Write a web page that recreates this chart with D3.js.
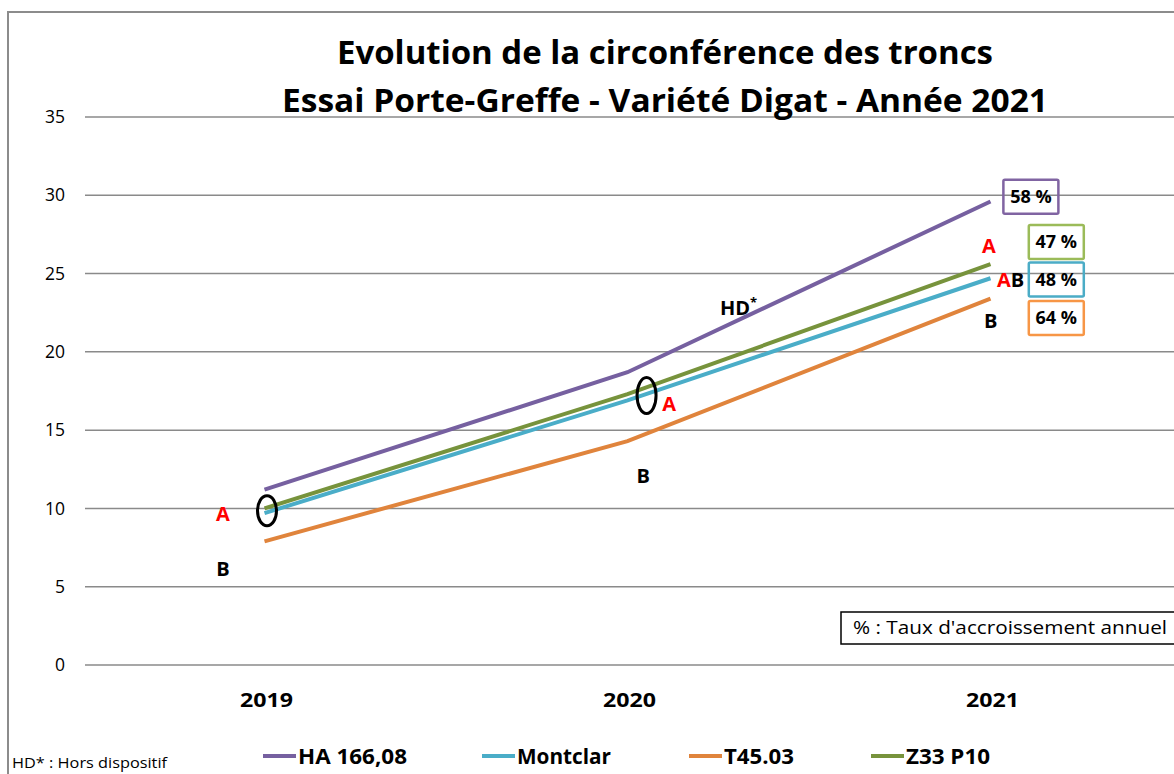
<!DOCTYPE html>
<html><head><meta charset="utf-8">
<script src="https://cdn.jsdelivr.net/npm/d3@7"></script>
<style>
body{margin:0;background:#fff;}
svg{display:block;font-family:"Open Sans",Lato,sans-serif;}
</style></head>
<body><svg id="c" width="1174" height="774"></svg>
<script>
const years = ["2019","2020","2021"];
const yTicks = [0,5,10,15,20,25,30,35];
const seriesNames = ["HA 166,08","Montclar","T45.03","Z33 P10"];
const seriesColors = ["#7660a0","#4aadc8","#e0843c","#77933c"];
const boxColors = ["#8064a2","#4bacc6","#f79646","#9bbb59"];
const haValues = [11.2, 18.7, 29.6];
const montclarValues = [9.7, 16.9, 24.7];
const t45Values = [7.9, 14.3, 23.4];
const z33Values = [10.0, 17.3, 25.6];
const growthRates = ["58 %","48 %","64 %","47 %"];
// statistical group letters: [category index, value, text, color]
const groupLetters = [
  [-0.12, 9.64, "A", "#ff0000"],
  [-0.12, 6.13, "B", "#000"],
  [1.109, 16.67, "A", "#ff0000"],
  [1.038, 12.07, "B", "#000"],
  [1.99, 26.76, "A", "#ff0000"],
  [1.995, 21.95, "B", "#000"]
];
const titleLines = ["Evolution de la circonférence des troncs","Essai Porte-Greffe - Variété Digat - Année 2021"];
const noteText = "% : Taux d'accroissement  annuel";
const footText = "HD* : Hors dispositif";

const svg = d3.select("#c");
const x = d3.scaleBand().domain(years).range([85, 1174]);
const xi = d3.scaleLinear().domain([0,2]).range([x(years[0])+x.bandwidth()/2, x(years[2])+x.bandwidth()/2]);
const y = d3.scaleLinear().domain([0,35]).range([665,117]);

// outer border
svg.append("rect").attr("x",8).attr("y",12).attr("width",1200).attr("height",800)
  .attr("fill","none").attr("stroke","#8c8c8c").attr("stroke-width",2);

// grid
svg.append("g").selectAll("line").data(yTicks).join("line")
  .attr("x1",85).attr("x2",1174).attr("y1",d=>y(d)).attr("y2",d=>y(d))
  .attr("stroke","#8a8a8a").attr("stroke-width",1.5);
svg.append("g").selectAll("text").data(yTicks).join("text")
  .attr("x",65).attr("y",d=>y(d)).attr("dy","0.35em").attr("text-anchor","end")
  .attr("font-size",17.5).attr("fill","#000").text(d=>d);

// x labels
svg.append("g").selectAll("text").data(years).join("text")
  .attr("x",d=>x(d)+x.bandwidth()/2).attr("y",707).attr("text-anchor","middle")
  .attr("font-size",20).attr("font-weight","bold").attr("textLength",53).attr("lengthAdjust","spacingAndGlyphs").text(d=>d);

// title
const titleSpans = [[337,64,656],[282,112,766]];
svg.append("g").selectAll("text").data(titleLines).join("text")
  .attr("x",(d,i)=>titleSpans[i][0]).attr("y",(d,i)=>titleSpans[i][1])
  .attr("textLength",(d,i)=>titleSpans[i][2]).attr("lengthAdjust","spacingAndGlyphs")
  .attr("font-size",33).attr("font-weight","bold").text(d=>d);

// lines
const allSeries = [haValues, montclarValues, t45Values, z33Values];
const line = d3.line().x((d,i)=>xi(i)-2).y(d=>y(d));
const drawOrder = [2,1,3,0];
svg.append("g").selectAll("path").data(drawOrder).join("path")
  .attr("d",k=>line(allSeries[k])).attr("fill","none")
  .attr("stroke",k=>seriesColors[k]).attr("stroke-width",4);

// ellipses
svg.append("ellipse").attr("cx",xi(0)+0.5).attr("cy",y(9.85)).attr("rx",9.5).attr("ry",15)
  .attr("fill","none").attr("stroke","#000").attr("stroke-width",3);
svg.append("ellipse").attr("cx",xi(1.047)).attr("cy",y(17.21)).attr("rx",9.5).attr("ry",18)
  .attr("fill","none").attr("stroke","#000").attr("stroke-width",3);

// letters
svg.append("g").selectAll("text").data(groupLetters).join("text")
  .attr("x",d=>xi(d[0])).attr("y",d=>y(d[1])).attr("dy","0.35em").attr("text-anchor","middle")
  .attr("font-size",20).attr("font-weight","bold").attr("fill",d=>d[3]).text(d=>d[2]);
// AB
const ab = svg.append("text").attr("x",xi(2.05)).attr("y",y(24.6)).attr("dy","0.35em")
  .attr("text-anchor","middle").attr("font-size",20).attr("font-weight","bold");
ab.append("tspan").attr("fill","#ff0000").text("A");
ab.append("tspan").attr("fill","#000").text("B");
// HD*
const hd = svg.append("text").attr("x",xi(1.249)).attr("y",y(22.8)).attr("dy","0.35em")
  .attr("font-size",20).attr("font-weight","bold");
hd.append("tspan").text("HD");
hd.append("tspan").attr("font-size",13).attr("dy","-8").text("*");

// growth boxes [series index, left, top]
const boxes = [[0, 2.03, 31.0],[3, 2.1, 28.1],[1, 2.1, 25.7],[2, 2.1, 23.25]];
const bw = 55, bh = 34;
const bg = svg.append("g").selectAll("g").data(boxes).join("g")
  .attr("transform",d=>`translate(${xi(d[1])},${y(d[2])})`);
bg.append("rect").attr("width",bw).attr("height",bh).attr("fill","none")
  .attr("stroke",d=>boxColors[d[0]]).attr("stroke-width",2.5).attr("rx",1.5);
bg.append("text").attr("x",bw/2).attr("y",bh/2).attr("dy","0.35em").attr("text-anchor","middle")
  .attr("font-size",18).attr("font-weight","bold").text(d=>growthRates[d[0]]);

// note box
svg.append("rect").attr("x",841).attr("y",612).attr("width",360).attr("height",32)
  .attr("fill","#fff").attr("stroke","#000").attr("stroke-width",1.5);
svg.append("text").attr("x",853).attr("y",628).attr("dy","0.35em").attr("font-size",18)
  .attr("textLength",314).attr("lengthAdjust","spacingAndGlyphs").text(noteText);

// footnote
svg.append("text").attr("x",12).attr("y",768).attr("font-size",14)
  .attr("textLength",155).attr("lengthAdjust","spacingAndGlyphs").text(footText);

// legend
const legX = [263, 482, 689, 871];
const legW = [109, 94, 70, 84];
const lg = svg.append("g").selectAll("g").data(seriesNames).join("g")
  .attr("transform",(d,i)=>`translate(${legX[i]},756)`);
lg.append("line").attr("x1",0).attr("x2",33).attr("stroke",(d,i)=>seriesColors[i]).attr("stroke-width",4);
lg.append("text").attr("x",35).attr("dy","0.35em").attr("font-size",22).attr("font-weight","bold")
  .attr("textLength",(d,i)=>legW[i]).attr("lengthAdjust","spacingAndGlyphs").text(d=>d);
</script></body></html>
